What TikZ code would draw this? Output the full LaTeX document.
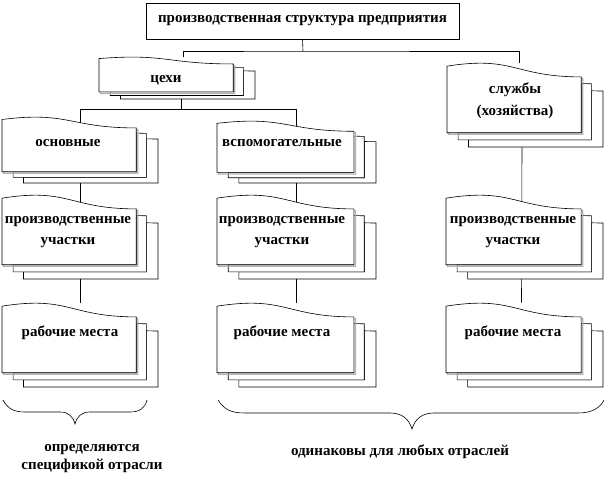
\documentclass[tikz,border=0pt]{standalone}
\usepackage{fontspec}
\setmainfont{Liberation Serif}[BoldFont={Liberation Serif Bold}]
\newcommand\mdfront{(0,8.18) .. controls (92.98,-19.42) and (92.98,35.78) .. (185.95,35.78) -- (185.95,179.25) -- (0,179.25) -- cycle}
\newcommand\mdsecond{(15.32,179.25) -- (15.32,197.85) -- (200,197.85) -- (200,53.48) .. controls (192.98,53.48) and (185.95,52.48) .. (185.95,52.48) -- (185.95,179.25) -- cycle}
\newcommand\mdthird{(29.72,197.85) -- (29.72,216) -- (216,216) -- (216,72.08) .. controls (208,72.08) and (200,71.33) .. (200,71.33) -- (200,197.85) -- cycle}
% name, x1, y1, x2, y2 : invisible node covering the shape
\newcommand\mdnode[5]{\node[inner sep=0, minimum width={(#4-#2)*1pt}, minimum height={(#5-#3)*1pt}] (#1) at ({(#2+#4)/2},{(#3+#5)/2}) {};}
% x1, y1, x2, y2 : draw the multi-document shape
\newcommand\mdshape[4]{%
  \begin{scope}[shift={(#1,#2)}, xscale={(#3-#1)/216}, yscale={(#4-#2)/216}]
    \filldraw[fill=white, draw=black] \mdthird;
    \filldraw[fill=white, draw=black] \mdsecond;
  \end{scope}
  \begin{scope}[shift={(#1+1.5,#2+1.5)}, xscale={(#3-#1)/216}, yscale={(#4-#2)/216}]
    \draw[gray!60, line width=1.3pt] \mdfront;
  \end{scope}
  \begin{scope}[shift={(#1,#2)}, xscale={(#3-#1)/216}, yscale={(#4-#2)/216}]
    \filldraw[fill=white, draw=black] \mdfront;
  \end{scope}}
\begin{document}
\begin{tikzpicture}[x=1pt, y=-1pt, line width=0.6pt,
  txt/.style={font=\bfseries\fontsize{15}{20.5}\selectfont, align=center, inner sep=0},
  conn/.style={draw=black, line width=0.6pt},
  brace/.style={draw=black, line width=0.6pt}]
\useasboundingbox (0,0) rectangle (606,486);
\fill[white] (0,0) rectangle (606,486);

% title
\node[draw, fill=white, minimum width=313pt, minimum height=36pt, inner sep=0, txt] (title) at (302.5,21) {производственная структура предприятия};

% invisible anchors for shapes
\mdnode{cex}{99}{57}{255}{99}
\mdnode{sl}{447}{63}{603}{147}
\mdnode{osn}{2}{117}{158}{183}
\mdnode{vsp}{217}{121}{376}{183}
\mdnode{pu1}{2}{195}{158}{279}
\mdnode{pu2}{217}{195}{376}{279}
\mdnode{pu3}{446}{195}{603}{279}
\mdnode{rm1}{2}{303}{158}{387}
\mdnode{rm2}{217}{303}{376}{387}
\mdnode{rm3}{446}{303}{603}{387}

% connectors (behind shapes)
\coordinate (bus1) at (303,51);
\coordinate (bus2) at (181,110);
\draw[conn] (title.south) -- (bus1);
\draw[conn] ([xshift=6pt]cex.north) |- (bus1) -| ([xshift=-6pt]sl.north);
\draw[conn] ([xshift=4pt]cex.south) -- (bus2);
\draw[conn] (osn.north) ++(0,-7) coordinate (b2l) -- (b2l -| vsp.north) -- (vsp.north);
\draw[conn] (b2l) -- (rm1.north);
\draw[conn] (vsp.north) -- (rm2.north);
\draw[conn] ([xshift=-3pt]sl.south) -- ([xshift=-3pt]rm3.north);

% shapes
\mdshape{99}{57}{255}{99}
\mdshape{447}{63}{603}{147}
\mdshape{2}{117}{158}{183}
\mdshape{217}{121}{376}{183}
\mdshape{2}{195}{158}{279}
\mdshape{217}{195}{376}{279}
\mdshape{446}{195}{603}{279}
\mdshape{2}{303}{158}{387}
\mdshape{217}{303}{376}{387}
\mdshape{446}{303}{603}{387}

% texts
\node[txt] (tcex) at (166,80) {цехи};
\node[txt, font=\bfseries\fontsize{15}{22}\selectfont] (tsl) at (515,101) {службы\\(хозяйства)};
\node[txt] (tosn) at (68,143) {основные};
\node[txt] (tvsp) at (282,143) {вспомогательные};
\node[txt] (tpu1) at (68,232) {производственные\\участки};
\node[txt] (tpu2) at (282,232) {производственные\\участки};
\node[txt] (tpu3) at (513,232) {производственные\\участки};
\node[txt] (trm1) at (70,333) {рабочие места};
\node[txt] (trm2) at (282,333) {рабочие места};
\node[txt] (trm3) at (513,333) {рабочие места};

% braces
\draw[brace] (3,400) .. controls (8,409) and (14,412) .. (25,412) -- (60,412)
  .. controls (68,412) and (73,416) .. (75,424)
  .. controls (77,416) and (82,412) .. (90,412) -- (130,412)
  .. controls (140,412) and (145,408) .. (147,400);
\draw[brace] (218,400) .. controls (224,409) and (230,413) .. (245,413) -- (390,413)
  .. controls (402,413) and (409,419) .. (412,429)
  .. controls (415,419) and (422,413) .. (434,413) -- (578,413)
  .. controls (592,413) and (600,408) .. (604,400);

\node[txt, font=\bfseries\fontsize{15}{18}\selectfont] (tl) at (92,459) {определяются\\спецификой отрасли};
\node[txt] (tr) at (400,452) {одинаковы для любых отраслей};
\end{tikzpicture}
\end{document}
